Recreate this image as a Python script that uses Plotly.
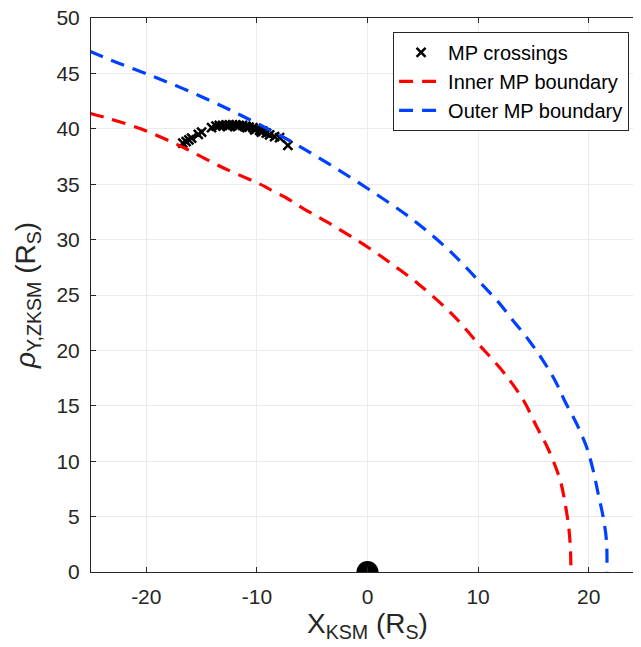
import plotly.graph_objects as go

# MP crossings (X_KSM, rho)
cross_x = [-16.7, -16.4, -16.15, -15.9, -15.3, -15.0, -14.1, -13.7, -13.4, -13.1, -12.8, -12.5,
           -12.2, -11.9, -11.6, -11.3, -11.0, -10.7, -10.35, -10.05, -9.75, -9.45, -9.15, -8.85,
           -8.4, -7.95, -7.2, -12.65, -11.75, -10.9, -10.2, -9.6]
cross_y = [38.7, 38.85, 39.0, 39.15, 39.5, 39.7, 40.1, 40.25, 40.3, 40.3, 40.35, 40.35,
           40.35, 40.35, 40.3, 40.3, 40.25, 40.15, 40.1, 40.0, 39.85, 39.8, 39.6, 39.45,
           39.3, 39.2, 38.5, 40.2, 40.2, 40.1, 39.9, 39.7]

# Inner MP boundary
inner_x = [-25.1, -23.3, -20.5, -17.9, -16.5, -13.3, -9.3, -8.6, -7.4, -5.8, -3.5, 0.2, 2.6,
           4.6, 7.0, 8.2, 10.1, 11.2, 12.4, 14.1, 15.3, 16.2, 17.0, 17.5, 17.9, 18.2, 18.35, 18.4]
inner_y = [41.4, 40.9, 40.0, 38.9, 38.25, 36.6, 34.8, 34.4, 33.8, 32.8, 31.5, 29.2, 27.5,
           26.0, 23.9, 22.7, 20.5, 19.3, 17.9, 15.5, 13.1, 11.4, 9.5, 8.0, 6.0, 4.0, 2.0, 0.0]

# Outer MP boundary
outer_x = [-25.1, -23.2, -19.3, -15.0, -11.0, -7.35, -3.6, 0.18, 4.1, 7.3, 8.9, 10.3, 11.8,
           13.15, 14.6, 15.86, 17.0, 17.8, 18.9, 19.8, 20.4, 20.85, 21.3, 21.6, 21.65]
outer_y = [47.0, 46.2, 44.7, 42.9, 41.0, 39.1, 36.9, 34.5, 31.8, 29.1, 27.5, 26.0, 24.4,
           22.7, 20.9, 19.1, 17.2, 15.5, 13.4, 11.3, 9.2, 7.1, 5.0, 2.9, 0.0]

planet_x = [0]
planet_y = [0]

x_ticks = [-20, -10, 0, 10, 20]
x_tick_text = ["-20", "-10", "0", "10", "20"]
y_ticks = [0, 5, 10, 15, 20, 25, 30, 35, 40, 45, 50]

FONT = "Liberation Sans, Arial, Helvetica, sans-serif"
AX = "#262626"

fig = go.Figure()
fig.add_trace(go.Scatter(x=planet_x, y=planet_y, mode="markers", showlegend=False,
                         marker=dict(symbol="circle", size=22, color="black"), cliponaxis=True))
fig.add_trace(go.Scatter(x=cross_x, y=cross_y, mode="markers", name="MP crossings",
                         marker=dict(symbol="x-thin", size=9, color="black",
                                     line=dict(width=2.5, color="black"))))
fig.add_trace(go.Scatter(x=inner_x, y=inner_y, mode="lines", name="Inner MP boundary",
                         line=dict(color="#ff0000", width=3.2, dash="14px,9px", shape="spline")))
fig.add_trace(go.Scatter(x=outer_x, y=outer_y, mode="lines", name="Outer MP boundary",
                         line=dict(color="#0040ff", width=3.2, dash="14px,9px", shape="spline")))

# the page body adds an 8 px offset, so the figure is laid out 8 px up/left
fig.update_layout(
    width=636, height=639,
    margin=dict(l=83, r=0, t=10, b=75),
    plot_bgcolor="white", paper_bgcolor="white",
    font=dict(family=FONT, size=21, color=AX),
    legend=dict(x=0.973, y=0.975, xanchor="right", yanchor="top",
                bgcolor="white", bordercolor=AX, borderwidth=1, itemwidth=44,
                font=dict(size=20, color="black"), tracegroupgap=0),
    xaxis=dict(range=[-25, 25], tickvals=x_ticks, ticktext=x_tick_text, ticks="inside", ticklen=5,
               tickcolor=AX, showline=True, linecolor=AX, linewidth=1, mirror="ticks",
               showgrid=True, gridcolor="#ebebeb", zeroline=False, automargin=False,
               ticklabelstandoff=6, ticklabeloverflow="allow",
               title=dict(text="X<sub>KSM</sub> (R<sub>S</sub>)", font=dict(size=28, color=AX), standoff=6)),
    yaxis=dict(range=[0, 50], tickvals=y_ticks, ticks="inside", ticklen=5,
               tickcolor=AX, showline=True, linecolor=AX, linewidth=1, mirror="ticks",
               showgrid=True, gridcolor="#ebebeb", zeroline=False, automargin=False,
               ticklabelstandoff=6, ticklabeloverflow="allow",
               title=dict(text="<i>ρ</i><sub>Y,ZKSM</sub> (R<sub>S</sub>)", font=dict(size=28, color=AX), standoff=12)),
)

fig.write_html("out.html")
